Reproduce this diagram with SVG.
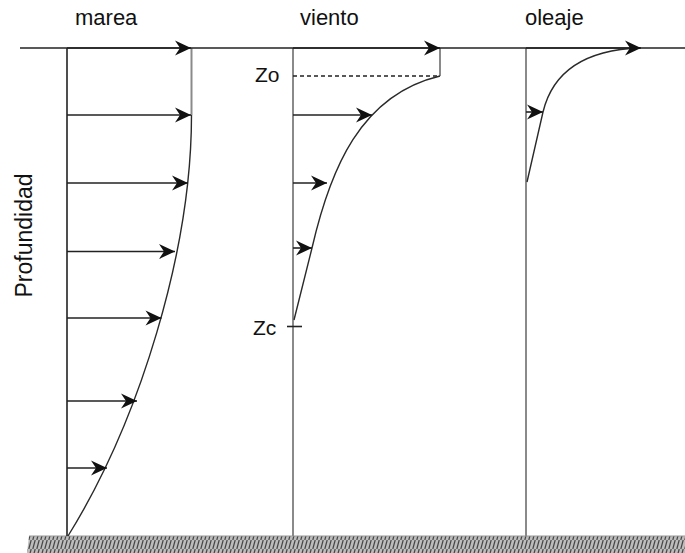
<svg xmlns="http://www.w3.org/2000/svg" width="685" height="553" viewBox="0 0 685 553">
<style>
.lbl{font-family:"Liberation Sans",Arial,sans-serif;font-size:22px;fill:#111}
.axisB{stroke:#222;stroke-width:1.6;fill:none}
.axisG{stroke:#8a8a8a;stroke-width:2;fill:none}
.curve{stroke:#2a2a2a;stroke-width:1.4;fill:none}
.arr{stroke:#222;stroke-width:1.6;fill:none;marker-end:url(#ah)}
</style>
<defs>
<marker id="ah" markerUnits="userSpaceOnUse" markerWidth="17" markerHeight="15" refX="16" refY="7.5" orient="auto" overflow="visible">
<path d="M0,0 L16,7.5 L0,15 L5,7.5 z" fill="#111"/>
</marker>
<pattern id="hatch" patternUnits="userSpaceOnUse" width="4" height="9">
<rect width="4" height="9" fill="#bdbdbd"/>
<line x1="0.8" y1="9" x2="3.2" y2="0" stroke="#444" stroke-width="1.2"/>
</pattern>
</defs>
<rect x="0" y="0" width="685" height="553" fill="#fff"/>
<g id="ground">
<path d="M29,536 L685,536 L685,553 L27,553 Z" fill="url(#hatch)"/>
<line x1="29" y1="536" x2="685" y2="536" stroke="#999" stroke-width="1"/>
</g>
<g id="labels">
<text class="lbl" x="75" y="25">marea</text>
<text class="lbl" x="300" y="25">viento</text>
<text class="lbl" x="525" y="25">oleaje</text>
<text class="lbl" x="255" y="82" style="font-size:21px">Zo</text>
<text class="lbl" x="253" y="335" style="font-size:21px">Zc</text>
<text class="lbl" transform="translate(32,235.5) rotate(-90)" text-anchor="middle" style="font-size:23px">Profundidad</text>
</g>
<g id="marea">
<line class="axisB" x1="67" y1="48" x2="67" y2="536"/>
<line class="axisG" x1="191.5" y1="48" x2="191.5" y2="115"/>
<path class="curve" d="M191.5,115 C191.5,250 140,420 68,536"/>
</g>
<g id="viento">
<line class="axisG" x1="293" y1="48" x2="293" y2="536"/>
<line class="axisG" x1="440" y1="48" x2="440" y2="76"/>
<line x1="293" y1="76" x2="440" y2="76" stroke="#222" stroke-width="1.4" stroke-dasharray="4 3"/>
<path class="curve" d="M440,76 C360,95 330,170 312,248 L294,320"/>
<line x1="287" y1="326.5" x2="302" y2="326.5" stroke="#222" stroke-width="1.6"/>
</g>
<g id="oleaje">
<line class="axisG" x1="526" y1="48" x2="526" y2="536"/>
<path class="curve" d="M640,48 C580,50 552,75 543,112 L527,182"/>
</g>
<g id="connectors">
<line x1="20" y1="48" x2="685" y2="48" stroke="#222" stroke-width="1.6"/>
<line class="arr" x1="67" y1="48" x2="191" y2="48"/>
<line class="arr" x1="67" y1="115" x2="191" y2="115"/>
<line class="arr" x1="67" y1="183" x2="188" y2="183"/>
<line class="arr" x1="67" y1="251.5" x2="175" y2="251.5"/>
<line class="arr" x1="67" y1="318" x2="161.5" y2="318"/>
<line class="arr" x1="67" y1="401" x2="137" y2="401"/>
<line class="arr" x1="67" y1="468" x2="107" y2="468"/>
<line class="arr" x1="293" y1="48" x2="440" y2="48"/>
<line class="arr" x1="293" y1="115" x2="372" y2="115"/>
<line class="arr" x1="293" y1="183" x2="327" y2="183"/>
<line class="arr" x1="293" y1="248" x2="312" y2="248"/>
<line class="arr" x1="526" y1="48" x2="641" y2="48"/>
<line class="arr" x1="526" y1="112" x2="543" y2="112"/>
</g>
</svg>
